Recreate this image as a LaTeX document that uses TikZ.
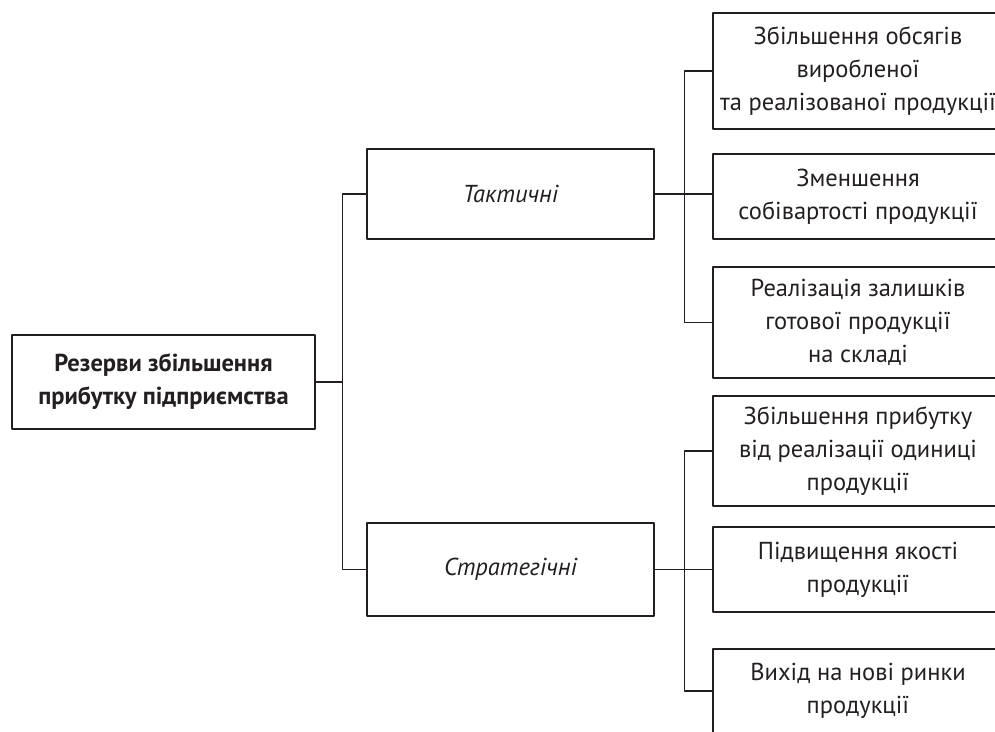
\documentclass[tikz,border=0pt]{standalone}
\usepackage{fontspec}
\setmainfont{PT Sans}
\definecolor{ink}{HTML}{231F20}
\begin{document}
\begin{tikzpicture}[x=1pt,y=-1pt, line join=round, color=ink,
    box/.style={draw, line width=2.6pt, align=center, inner sep=0pt, font=\fontsize{24.5}{33}\selectfont},
    link/.style={line width=1.2pt}]
    \def\xa{163.5} \def\xb{510.5} \def\xc{858} % Стовпці
    \def\wa{303} \def\wb{287} \def\wc{290}
    \useasboundingbox (0,0) rectangle (995,731);
    \clip (0,0) rectangle (995,731);
    \node[box, minimum width=\wa, minimum height=94, font=\fontsize{24.5}{33}\selectfont\bfseries] (root) at (\xa,382) {Резерви збільшення\\прибутку підприємства};
    \node[box, minimum width=\wb, minimum height=90, font=\fontsize{24.5}{33}\selectfont\itshape] (tact) at (\xb,194) {Тактичні};
    \node[box, minimum width=\wb, minimum height=93, font=\fontsize{24.5}{33}\selectfont\itshape] (strat) at (\xb,569.5) {Стратегічні};
    \node[box, minimum width=\wc, minimum height=116] (r1) at (\xc,71) {Збільшення обсягів\\виробленої\\та реалізованої продукції};
    \node[box, minimum width=\wc, minimum height=85] (r2) at (\xc,196.5) {Зменшення\\собівартості продукції};
    \node[box, minimum width=\wc, minimum height=111] (r3) at (\xc,322.5) {Реалізація залишків\\готової продукції\\на складі};
    \node[box, minimum width=\wc, minimum height=110] (r4) at (\xc,451) {Збільшення прибутку\\від реалізації одиниці\\продукції};
    \node[box, minimum width=\wc, minimum height=85] (r5) at (\xc,569.5) {Підвищення якості\\продукції};
    \node[box, minimum width=\wc, minimum height=84] (r6) at (\xc,691) {Вихід на нові ринки\\продукції};
    \draw[link] (root.east) -- ++(26,0) |- (tact.west);
    \draw[link] (root.east) -- ++(26,0) |- (strat.west);
    \draw[link] (tact.east) -- (tact.east -| r2.west);
    \draw[link] (r1.west) -- ++(-27,0) |- (r3.west);
    \draw[link] (strat.east) -- (strat.east -| r5.west);
    \draw[link] (r4.west) -- ++(-27,0) |- (r6.west);
\end{tikzpicture}
\end{document}
